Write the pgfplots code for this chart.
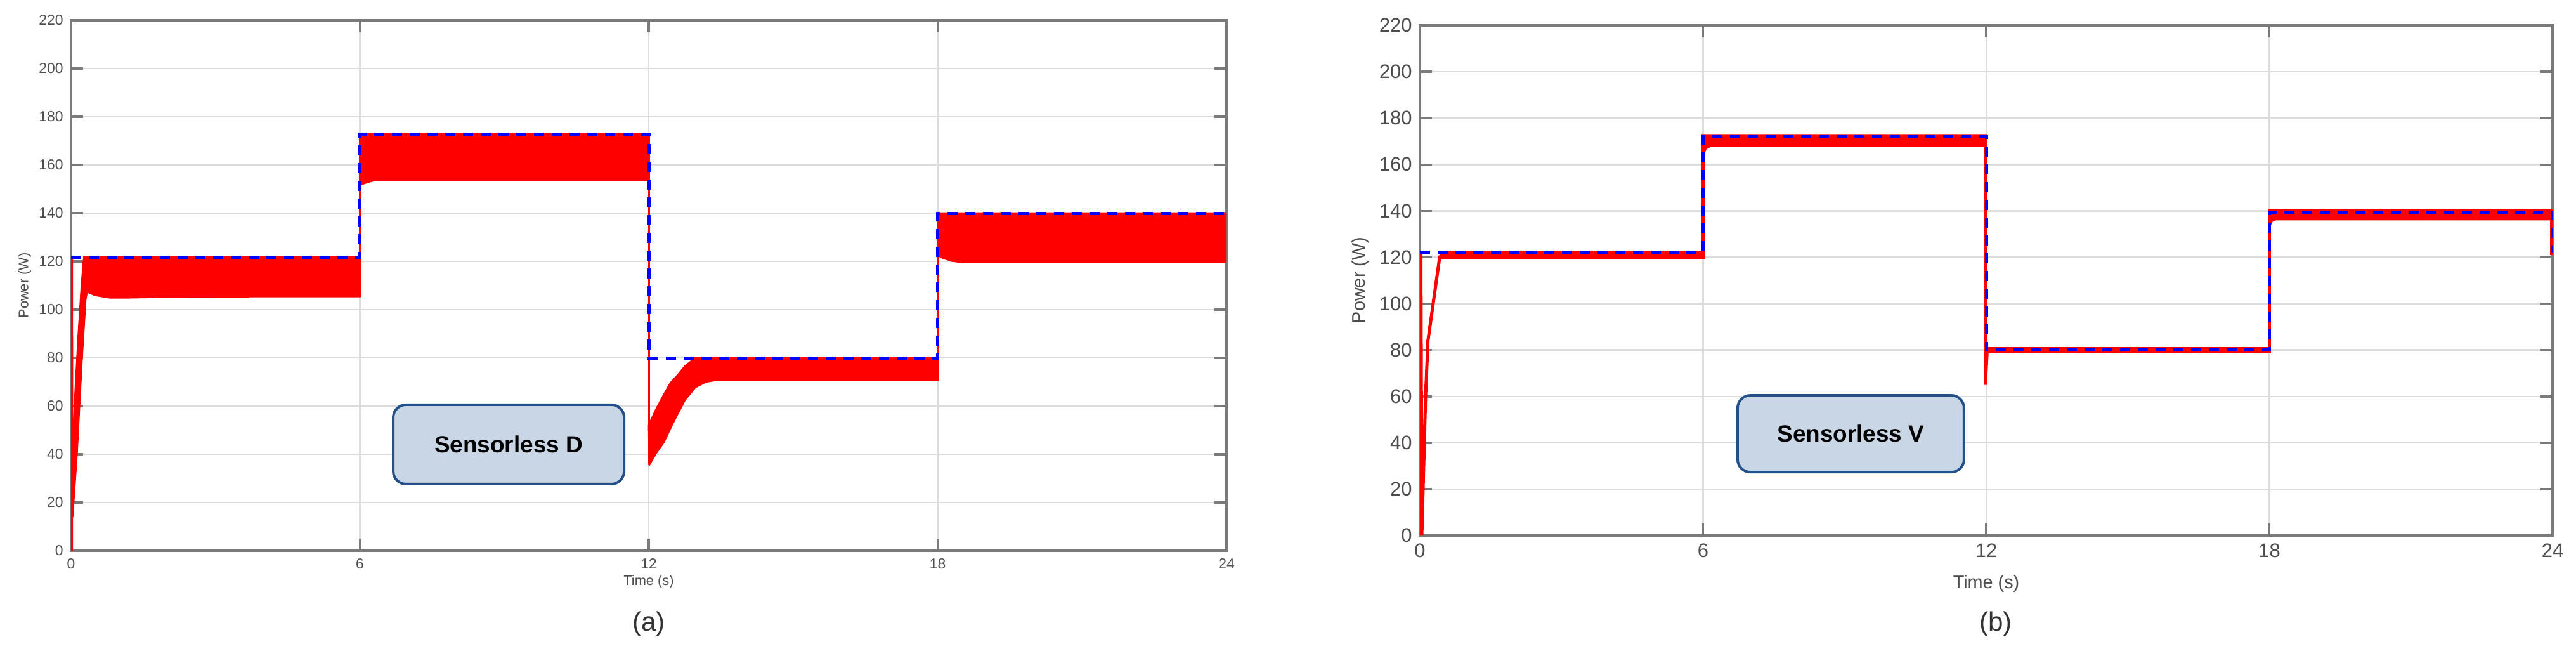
\documentclass[border=0pt]{standalone}
\usepackage{fontspec}
\setmainfont{Liberation Sans}
\usepackage{pgfplots}
\pgfplotsset{compat=1.18}

\definecolor{gridgray}{HTML}{DCDCDC}
\definecolor{axisgray}{HTML}{7A7A7A}
\definecolor{ticktext}{HTML}{4D4D4D}
\definecolor{boxfill}{HTML}{C9D6E6}
\definecolor{boxedge}{HTML}{24508A}

\pgfplotsset{
  matlab/.style={
    scale only axis,
    anchor=south west,
    xmin=0, xmax=24, ymin=0, ymax=220,
    xtick={0,6,12,18,24}, ytick={0,20,...,220},
    grid=major,
    major grid style={gridgray, line width=0.25mm},
    axis line style={axisgray, line width=0.35mm},
    tick style={axisgray, line width=0.35mm},
    tick align=inside,
    major tick length=1.9mm,
    xtick pos=both, ytick pos=both,
    /pgf/number format/assume math mode=true,
    ticklabel style={text=ticktext},
  },
  refline/.style={blue, line width=0.5mm, dash pattern=on 1.6mm off 1.2mm},
  sigline/.style={red, line width=0.3mm},
  sigband/.style={draw=red, fill=red, line width=0.3mm},
}

\begin{document}
\begin{tikzpicture}
\useasboundingbox (0,0) rectangle (406.2mm,-105.5mm);

% ---------- (a) Sensorless D ----------
\begin{axis}[matlab,
  at={(11.2mm,-86.8mm)}, width=182.2mm, height=83.6mm,
  ticklabel style={font=\fontsize{6.5}{7.5}\selectfont},
]
% start-up spike and wedge
\addplot[sigline] coordinates {(0.02,0) (0.02,122) (0.03,14)};
\addplot[sigband] coordinates {
  (0.02,38) (0.08,62) (0.15,88) (0.22,110) (0.27,121.8) (6,121.8)
  (6,105.5) (4,105.5) (2,105.3) (1.2,105) (0.8,105) (0.5,106)
  (0.33,107.5) (0.3,104) (0.22,78) (0.12,40) (0.05,20) (0.03,14)} -- cycle;
\addplot[sigline] coordinates {(6,105.5) (6,172.8)};
\addplot[sigband] coordinates {
  (6,172.8) (12,172.8)
  (12,153.7) (6.3,153.7) (6.1,152.5) (6.03,152) (6,152)} -- cycle;
\addplot[sigline] coordinates {(12,172.8) (12,35.5)};
\addplot[sigband] coordinates {
  (12,52) (12.15,58.5) (12.31,64.5) (12.45,69.5) (12.62,73.2) (12.75,76.5)
  (12.88,78.5) (12.97,80) (18,80)
  (18,70.8) (13.4,70.8) (13.19,70.1) (12.97,67.9) (12.75,62.6) (12.5,53)
  (12.31,45) (12.15,40.5) (12.02,36)} -- cycle;
\addplot[sigline] coordinates {(18,70.8) (18,140)};
\addplot[sigband] coordinates {
  (18,140) (24,140)
  (24,119.7) (18.5,119.7) (18.3,120.2) (18.1,121.5) (18.02,122.5) (18,123)} -- cycle;
% reference power
\addplot[refline] coordinates {
  (0,121.8) (6,121.8) (6,172.8) (12,172.8) (12,80) (18,80) (18,140) (24,140)};
\node[draw=boxedge, fill=boxfill, rounded corners=2mm, line width=0.4mm,
  minimum width=36.4mm, minimum height=12.5mm, inner sep=0pt,
  font=\bfseries\fontsize{10.5}{12}\selectfont] at (axis cs:9.09,44.1) {Sensorless D};
\end{axis}

% ---------- (b) Sensorless V ----------
\begin{axis}[matlab,
  at={(223.9mm,-84.4mm)}, width=178.6mm, height=80.4mm,
  ticklabel style={font=\fontsize{8.8}{10}\selectfont},
  sigline/.style={red, line width=0.5mm},
  sigband/.style={draw=red, fill=red, line width=0.5mm},
]
\addplot[sigline] coordinates {
  (0.02,0) (0.02,122) (0.04,0) (0.12,60) (0.17,84) (0.42,120.2) (0.5,120.8)};
\addplot[sigband] coordinates {
  (0.45,121.8) (6,121.8) (6,119.8) (0.45,119.8)} -- cycle;
\addplot[sigline] coordinates {(6,120.8) (6,167)};
\addplot[sigband] coordinates {
  (6,172.4) (11.98,172.4)
  (11.98,168.2) (6.15,168.2) (6.05,167.2) (6,165)} -- cycle;
\addplot[sigline] coordinates {(11.98,170) (11.98,65) (12.02,80)};
\addplot[sigband] coordinates {
  (12.02,80.6) (18,80.6) (18,79.2) (12.02,79.2)} -- cycle;
\addplot[sigline] coordinates {(18,80) (18,138)};
\addplot[sigband] coordinates {
  (18,140) (24,140)
  (24,136.6) (18.12,136.6) (18.04,135.8) (18,134)} -- cycle;
\addplot[sigline] coordinates {(23.98,138) (23.98,121)};
\addplot[refline] coordinates {
  (0,122.1) (6,122.1) (6,172.2) (12,172.2) (12,80) (18,80) (18,139.5)
  (24,139.5) (24,122)};
\node[draw=boxedge, fill=boxfill, rounded corners=2mm, line width=0.4mm,
  minimum width=35.7mm, minimum height=12.1mm, inner sep=0pt,
  font=\bfseries\fontsize{10.5}{12}\selectfont] at (axis cs:9.13,43.9) {Sensorless V};
\end{axis}

% axis labels and captions
\node[rotate=90, text=ticktext, font=\fontsize{6.2}{7}\selectfont] at (3.9mm,-45.0mm) {Power (W)};
\node[text=ticktext, font=\fontsize{6.2}{7}\selectfont] at (102.3mm,-91.7mm) {Time (s)};
\node[rotate=90, text=ticktext, font=\fontsize{8.2}{9.5}\selectfont] at (214.5mm,-44.2mm) {Power (W)};
\node[text=ticktext, font=\fontsize{8.2}{9.5}\selectfont] at (313.2mm,-92.0mm) {Time (s)};
\node[text=black!80, font=\fontsize{12}{14}\selectfont] at (102.3mm,-98.4mm) {(a)};
\node[text=black!80, font=\fontsize{12}{14}\selectfont] at (314.7mm,-98.4mm) {(b)};
\end{tikzpicture}
\end{document}
